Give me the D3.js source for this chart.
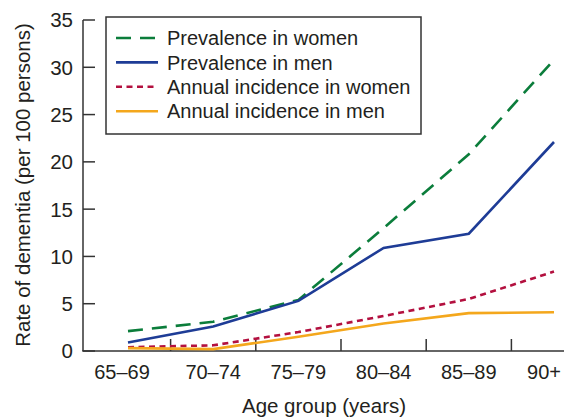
<!DOCTYPE html>
<html>
<head>
<meta charset="utf-8">
<script src="https://cdn.jsdelivr.net/npm/d3@7"></script>
<style>
  html, body { margin: 0; padding: 0; background: #fff; }
  svg { display: block; font-family: "Liberation Sans", Arial, Helvetica, sans-serif; }
</style>
</head>
<body>
<svg id="chart" width="564" height="418"></svg>
<script>
// ---- Data ----
const categories = ["65\u201369", "70\u201374", "75\u201379", "80\u201384", "85\u201389", "90+"];
const prevalenceWomen = [2.1, 3.1, 5.4, 13.0, 20.8, 30.8];
const prevalenceMen = [0.9, 2.6, 5.3, 10.9, 12.4, 22.1];
const incidenceWomen = [0.4, 0.6, 2.0, 3.7, 5.5, 8.4];
const incidenceMen = [0.3, 0.2, 1.5, 2.9, 4.0, 4.1];
const yTicks = [0, 5, 10, 15, 20, 25, 30, 35];
const seriesNames = ["Prevalence in women", "Prevalence in men", "Annual incidence in women", "Annual incidence in men"];

const series = [
  { name: seriesNames[0], values: prevalenceWomen, color: "#0b7d3b", dash: "15,9" },
  { name: seriesNames[1], values: prevalenceMen, color: "#1e3c96", dash: null },
  { name: seriesNames[2], values: incidenceWomen, color: "#b3103f", dash: "6,4.5" },
  { name: seriesNames[3], values: incidenceMen, color: "#f4a71c", dash: null }
];

const svg = d3.select("#chart");
const textColor = "#231f20";
const axisColor = "#333";
const fontSize = 20;

const xAxisLeft = 83, xAxisRight = 564;
const x = d3.scalePoint().domain(categories).range([128, 554]);
const y = d3.scaleLinear().domain([0, 35]).range([351, 20]);

// Y axis
const gy = svg.append("g");
gy.append("line")
  .attr("x1", xAxisLeft).attr("x2", xAxisLeft)
  .attr("y1", y(35)).attr("y2", y(0))
  .attr("stroke", axisColor).attr("stroke-width", 1.5);
gy.selectAll("line.tick").data(yTicks).join("line")
  .attr("class", "tick")
  .attr("x1", xAxisLeft).attr("x2", xAxisLeft + 12)
  .attr("y1", d => y(d)).attr("y2", d => y(d))
  .attr("stroke", axisColor).attr("stroke-width", 1.5);
gy.selectAll("text").data(yTicks).join("text")
  .attr("x", 73).attr("y", d => y(d)).attr("dy", "0.36em")
  .attr("text-anchor", "end")
  .attr("font-size", 20.5).attr("fill", textColor)
  .text(d => d);

// X axis
const gx = svg.append("g");
gx.append("line")
  .attr("x1", xAxisLeft - 0.75).attr("x2", xAxisRight)
  .attr("y1", y(0)).attr("y2", y(0))
  .attr("stroke", axisColor).attr("stroke-width", 1.5);
const boundaries = categories.slice(1).map((c, i) => (x(categories[i]) + x(c)) / 2);
gx.selectAll("line.tick").data(boundaries).join("line")
  .attr("class", "tick")
  .attr("x1", d => d).attr("x2", d => d)
  .attr("y1", y(0)).attr("y2", y(0) - 12)
  .attr("stroke", axisColor).attr("stroke-width", 1.5);
const labelShift = { "65\u201369": -6, "90+": -10 };
gx.selectAll("text").data(categories).join("text")
  .attr("x", d => x(d) + (labelShift[d] || 0))
  .attr("y", 379)
  .attr("text-anchor", "middle")
  .attr("font-size", fontSize).attr("fill", textColor)
  .text(d => d);

// Axis titles
svg.append("text")
  .attr("x", 324).attr("y", 413)
  .attr("text-anchor", "middle")
  .attr("font-size", 20.5).attr("fill", textColor)
  .text("Age group (years)");
svg.append("text")
  .attr("transform", "translate(30,185) rotate(-90)")
  .attr("text-anchor", "middle")
  .attr("font-size", 20.5).attr("fill", textColor)
  .text("Rate of dementia (per 100 persons)");

// Lines
const line = d3.line()
  .x((d, i) => x(categories[i]))
  .y(d => y(d));
svg.append("g").selectAll("path").data(series).join("path")
  .attr("d", d => line(d.values))
  .attr("fill", "none")
  .attr("stroke", d => d.color)
  .attr("stroke-width", 2.6)
  .attr("stroke-dasharray", d => d.dash)
  .attr("stroke-linejoin", "miter");

// Legend
const lg = svg.append("g");
lg.append("rect")
  .attr("x", 106).attr("y", 17).attr("width", 315).attr("height", 117)
  .attr("fill", "#fff").attr("stroke", axisColor).attr("stroke-width", 1.5);
const rows = lg.selectAll("g.row").data(series).join("g")
  .attr("class", "row")
  .attr("transform", (d, i) => `translate(0, ${38 + i * 24.4})`);
rows.append("line")
  .attr("x1", 116).attr("x2", 158).attr("y1", 0).attr("y2", 0)
  .attr("stroke", d => d.color).attr("stroke-width", 2.6)
  .attr("stroke-dasharray", d => d.dash);
rows.append("text")
  .attr("x", 167).attr("y", 0).attr("dy", "0.36em")
  .attr("font-size", fontSize).attr("fill", textColor)
  .text(d => d.name);
</script>
</body>
</html>
